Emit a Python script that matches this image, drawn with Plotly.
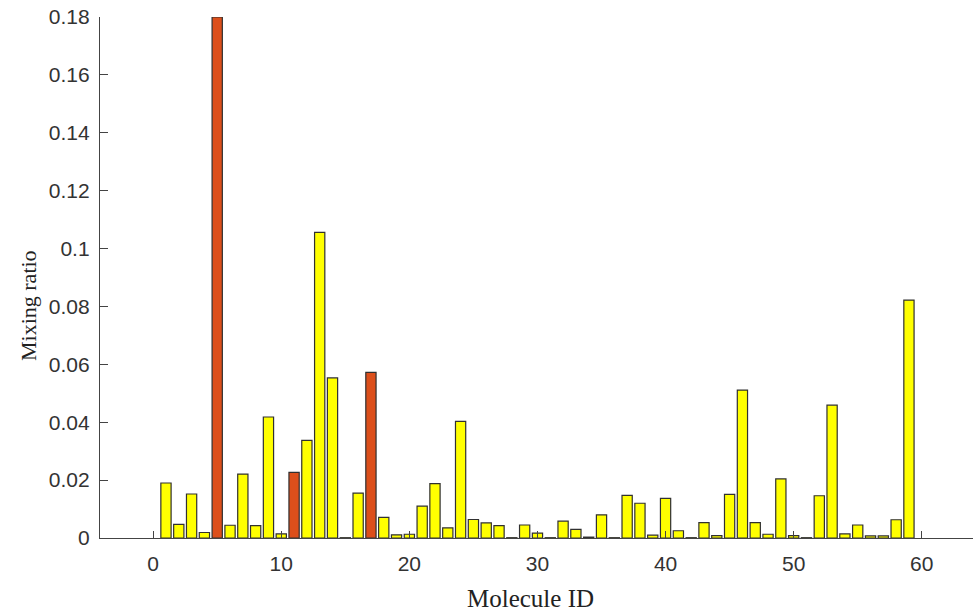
import plotly.graph_objects as go

molecule_ids = list(range(1, 60))
mixing_ratio = [
    0.0190, 0.0047, 0.0152, 0.0019, 0.1800, 0.0044, 0.0221, 0.0043, 0.0418, 0.0014,
    0.0227, 0.0337, 0.1056, 0.0553, 0.0001, 0.0155, 0.0572, 0.0071, 0.0011, 0.0013,
    0.0110, 0.0188, 0.0035, 0.0403, 0.0064, 0.0052, 0.0043, 0.0001, 0.0045, 0.0017,
    0.0001, 0.0058, 0.0030, 0.0003, 0.0080, 0.0001, 0.0147, 0.0120, 0.0010, 0.0137,
    0.0025, 0.0001, 0.0053, 0.0008, 0.0151, 0.0511, 0.0053, 0.0013, 0.0204, 0.0008,
    0.0001, 0.0146, 0.0459, 0.0014, 0.0045, 0.0007, 0.0007, 0.0063, 0.0822,
]
highlighted_ids = [5, 11, 17]

y_tick_vals = [0, 0.02, 0.04, 0.06, 0.08, 0.1, 0.12, 0.14, 0.16, 0.18]
y_tick_text = ["0", "0.02", "0.04", "0.06", "0.08", "0.1", "0.12", "0.14", "0.16", "0.18"]
x_tick_vals = [0, 10, 20, 30, 40, 50, 60]

colors = ["#DC4F1B" if i in highlighted_ids else "#FFFF00" for i in molecule_ids]

fig = go.Figure(go.Bar(
    x=molecule_ids, y=mixing_ratio, width=0.8,
    marker=dict(color=colors, line=dict(color="#303030", width=1.2)),
))

tick_font = dict(family="Liberation Sans, Arial, sans-serif", size=21, color="#333333")
serif = "Liberation Serif, Times New Roman, serif"

fig.update_layout(
    width=977, height=611,
    margin=dict(l=100, r=4, t=17, b=73),
    paper_bgcolor="white", plot_bgcolor="white",
    showlegend=False,
    xaxis=dict(
        range=[-4.15, 64.0], tickvals=x_tick_vals, ticks="inside", ticklen=7,
        tickcolor="#444444", tickwidth=1, showline=True, linecolor="#444444", linewidth=1.3,
        showgrid=False, zeroline=False, tickfont=tick_font, ticklabelstandoff=7,
    ),
    yaxis=dict(
        range=[0, 0.18], tickvals=y_tick_vals, ticktext=y_tick_text, ticks="inside", ticklen=8,
        tickcolor="#444444", tickwidth=1, showline=True, linecolor="#444444", linewidth=1.3,
        showgrid=False, zeroline=False, tickfont=tick_font, ticklabelstandoff=5,
    ),
    annotations=[
        dict(
            text="Mixing ratio", textangle=-90, showarrow=False,
            xref="paper", yref="paper", x=(28 - 100) / 873, y=(538 - 306) / 521,
            xanchor="center", yanchor="middle",
            font=dict(family=serif, size=22, color="#222222"),
        ),
        dict(
            text="Molecule ID", showarrow=False,
            xref="paper", yref="paper", x=(530 - 100) / 873, y=(538 - 598) / 521,
            xanchor="center", yanchor="middle",
            font=dict(family=serif, size=25, color="#222222"),
        ),
    ],
)

fig.write_html("out.html")
